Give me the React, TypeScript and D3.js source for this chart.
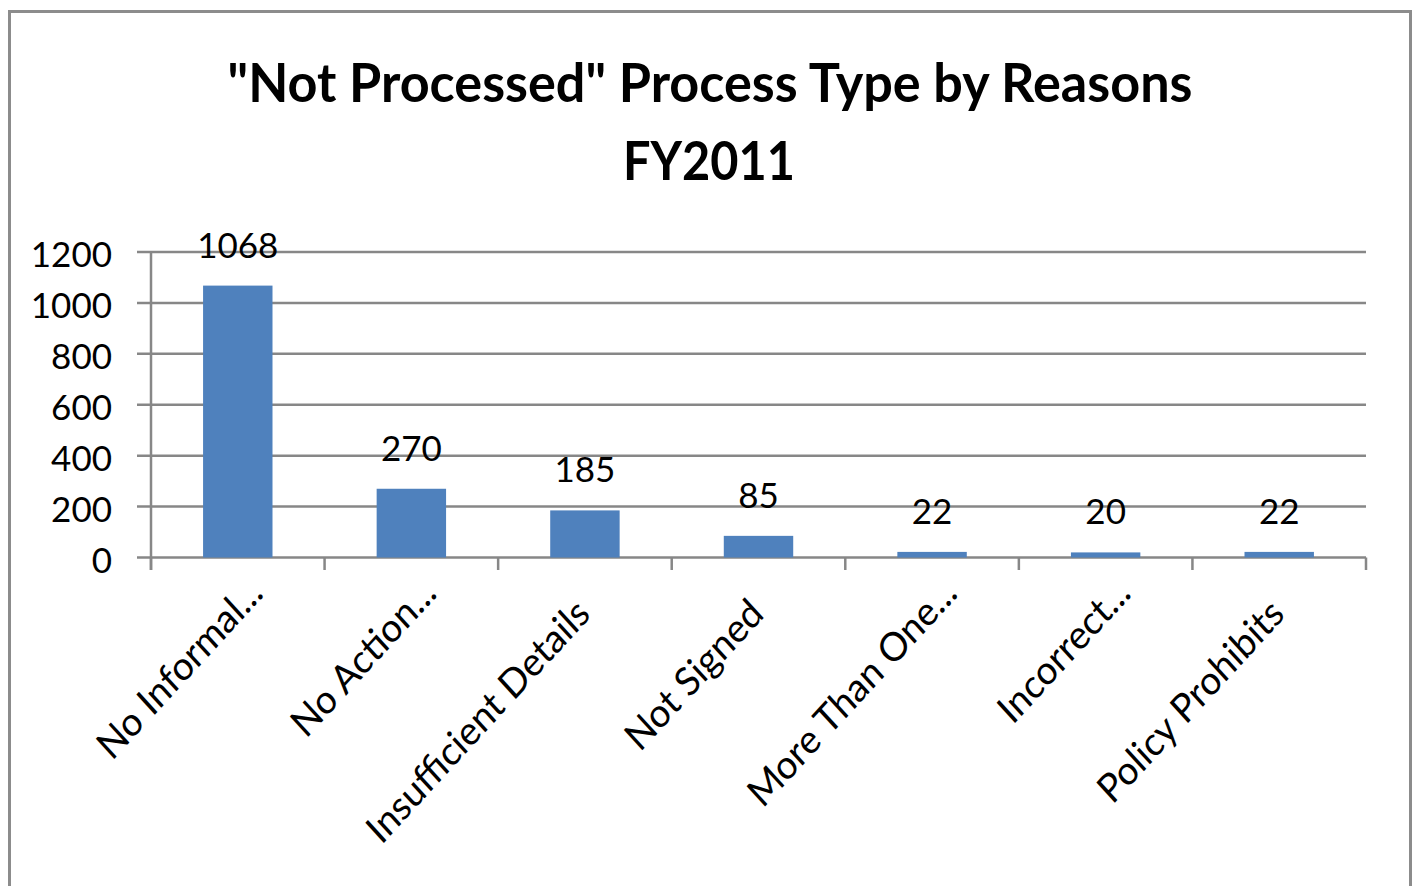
import React from "react";
import * as d3 from "d3";

const categories = [
  "No Informal...",
  "No Action...",
  "Insufficient Details",
  "Not Signed",
  "More Than One...",
  "Incorrect...",
  "Policy Prohibits",
];
const values = [1068, 270, 185, 85, 22, 20, 22];
const yTicks = [0, 200, 400, 600, 800, 1000, 1200];
const titleLines = ['"Not Processed" Process Type by Reasons', "FY2011"];

const W = 1420;
const H = 886;
const FONT = "Lato, 'Open Sans', sans-serif";
const GRID = "#878787";
const BAR = "#4F81BD";

export default function App() {
  const band = d3.scaleBand<string>().domain(categories).range([151, 1366]);
  const step = band.step();
  const y = d3.scaleLinear().domain([0, 1200]).range([557.5, 252]);

  const boundaries = d3.range(categories.length + 1).map((i) => 151 + i * step);

  return (
    <svg
      width={W}
      height={H}
      style={{ position: "absolute", left: 0, top: 0, display: "block", background: "#fff" }}
    >
      <rect x={9.5} y={11.5} width={1401} height={900} fill="#fff" stroke="#8c8c8c" strokeWidth={3} />
      <text
        x={710}
        y={102}
        textAnchor="middle"
        fontFamily={FONT}
        fontWeight={700}
        fontSize={54}
        textLength={965}
        lengthAdjust="spacingAndGlyphs"
      >
        {titleLines[0]}
      </text>
      <text
        x={709}
        y={180}
        textAnchor="middle"
        fontFamily={FONT}
        fontWeight={700}
        fontSize={54}
        textLength={172}
        lengthAdjust="spacingAndGlyphs"
      >
        {titleLines[1]}
      </text>

      {yTicks.map((t) => (
        <g key={t}>
          <line x1={137} x2={1366} y1={y(t)} y2={y(t)} stroke={GRID} strokeWidth={2.5} />
          <text x={112} y={y(t) + 15} textAnchor="end" fontFamily={FONT} fontSize={35} fill="#000">
            {t}
          </text>
        </g>
      ))}
      <line x1={151} x2={151} y1={y(1200)} y2={570} stroke={GRID} strokeWidth={2.5} />
      {boundaries.map((b, i) => (
        <line key={i} x1={b} x2={b} y1={y(0)} y2={570} stroke={GRID} strokeWidth={2.5} />
      ))}

      {categories.map((c, i) => {
        const cx = (band(c) as number) + band.bandwidth() / 2;
        const bw = step / 2.5;
        const truncated = c.endsWith("...");
        const ax = truncated ? cx + 27 : cx + 7;
        const ay = truncated ? 595 : 616;
        return (
          <g key={c}>
            <rect x={cx - bw / 2} y={y(values[i])} width={bw} height={y(0) - y(values[i])} fill={BAR} />
            <text x={cx} y={y(values[i]) - 28} textAnchor="middle" fontFamily={FONT} fontSize={35} fill="#000">
              {values[i]}
            </text>
            <text
              transform={`translate(${ax},${ay}) scale(1,1.09) rotate(-45)`}
              textAnchor="end"
              fontFamily={FONT}
              fontSize={36.5}
              fill="#000"
            >
              {c}
            </text>
          </g>
        );
      })}
    </svg>
  );
}
